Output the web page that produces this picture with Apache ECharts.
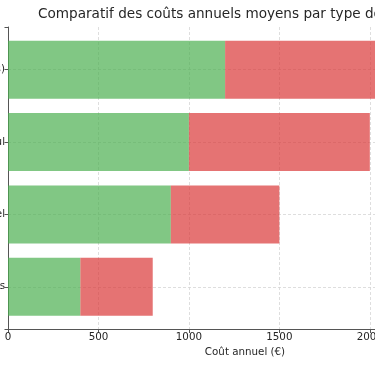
<!DOCTYPE html>
<html>
<head>
<meta charset="utf-8">
<script src="https://cdn.jsdelivr.net/npm/echarts@6/dist/echarts.min.js"></script>
<style>html,body{margin:0;padding:0;background:#fff}#c{width:375px;height:366px}</style>
</head>
<body>
<div id="c"></div>
<script>
// Data (bottom to top, as in a matplotlib barh)
const categories = ['Granulés de bois', 'Gaz naturel', 'Fioul', 'Électrique (radiateurs)'];
const baseCost = [400, 900, 1000, 1200];
const extraCost = [400, 600, 1000, 1300];
const seriesNames = ["Coût d'installation amorti", "Coût de l'énergie"];
const xTicks = [0, 500, 1000, 1500, 2000];
const titleText = 'Comparatif des coûts annuels moyens par type de chauffage';
const xLabel = 'Coût annuel (€)';

const font = 'DejaVu Sans';
const chart = echarts.init(document.getElementById('c'), null, {renderer: 'canvas'});

const baseData = baseCost.map((v, i) => [0, v, i]);
const extraData = extraCost.map((v, i) => [baseCost[i], baseCost[i] + v, i]);

function renderBar(params, api) {
  const s = api.coord([api.value(0), api.value(2)]);
  const e = api.coord([api.value(1), api.value(2)]);
  const h = api.size([0, 0.8])[1];
  return {
    type: 'rect',
    shape: {x: s[0], y: s[1] - h / 2, width: e[0] - s[0], height: h},
    style: api.style()
  };
}

const option = {
  animation: false,
  backgroundColor: '#fff',
  title: {
    text: titleText,
    left: 38, top: 7, padding: 0,
    textStyle: {fontFamily: font, fontSize: 13.6, fontWeight: 'normal', color: '#262626'}
  },
  grid: {left: 8, right: -107, top: 27, bottom: 36.5, containLabel: false, outerBoundsMode: 'none'},
  xAxis: {
    type: 'value', min: 0, max: 2620, interval: 500,
    name: xLabel, nameLocation: 'middle', nameGap: 15.5,
    nameTextStyle: {fontFamily: font, fontSize: 10.3, color: '#262626'},
    axisLine: {show: true, onZero: false, lineStyle: {color: '#555', width: 1}},
    axisTick: {show: true, length: 3.5, lineStyle: {color: '#555'}},
    axisLabel: {fontFamily: font, fontSize: 10.3, color: '#262626', margin: 2.5,
      formatter: v => xTicks.includes(v) ? String(v) : ''},
    splitLine: {show: true, showMaxLine: false, lineStyle: {color: '#d5d5d5', type: [3, 2], width: 0.8}}
  },
  yAxis: {
    type: 'value', min: -0.59, max: 3.59, splitNumber: 4,
    axisLine: {show: true, onZero: false, lineStyle: {color: '#555', width: 1}},
    axisTick: {show: true, length: 3.5, lineStyle: {color: '#555'}},
    axisLabel: {fontFamily: font, fontSize: 10.3, color: '#262626', margin: 3,
      formatter: v => (Math.abs(v - Math.round(v)) < 1e-6 && categories[Math.round(v)] !== undefined) ? categories[Math.round(v)] : ''},
    splitLine: {show: true, showMinLine: false, showMaxLine: false, lineStyle: {color: '#d5d5d5', type: [3, 2], width: 0.8}}
  },
  series: [
    {type: 'custom', name: seriesNames[0], renderItem: renderBar, encode: {x: [0, 1], y: 2},
     itemStyle: {color: 'rgba(76,175,80,0.7)'}, data: baseData},
    {type: 'custom', name: seriesNames[1], renderItem: renderBar, encode: {x: [0, 1], y: 2},
     itemStyle: {color: 'rgba(218,55,55,0.7)'}, data: extraData}
  ]
};
chart.setOption(option);
</script>
</body>
</html>
